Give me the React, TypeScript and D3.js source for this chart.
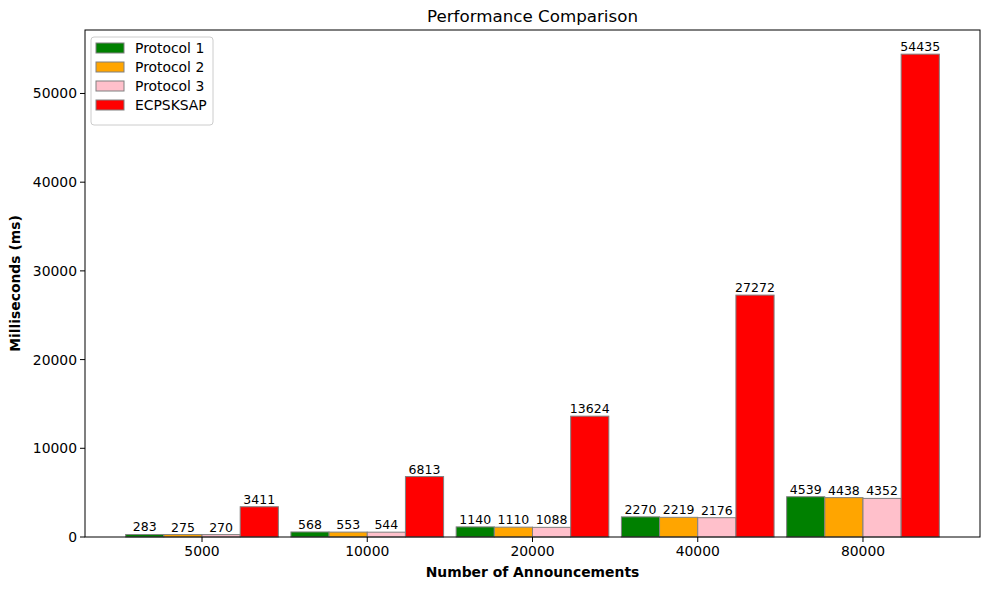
import React from "react";
import * as d3 from "d3";

const categories = ["5000", "10000", "20000", "40000", "80000"];
const seriesNames = ["Protocol 1", "Protocol 2", "Protocol 3", "ECPSKSAP"];
const protocol1 = [283, 568, 1140, 2270, 4539];
const protocol2 = [275, 553, 1110, 2219, 4438];
const protocol3 = [270, 544, 1088, 2176, 4352];
const ecpsksap = [3411, 6813, 13624, 27272, 54435];
const yTicks = [0, 10000, 20000, 30000, 40000, 50000];
const colors = ["green", "orange", "pink", "red"];

const W = 990, H = 590;
const M = { left: 85, right: 980, top: 30, bottom: 537 };
const barW = 0.231;

export default function App() {
  const series = [protocol1, protocol2, protocol3, ecpsksap];
  const xMin = -barW / 2, xMax = categories.length - 1 + 3.5 * barW;
  const pad = (xMax - xMin) * 0.05;
  const x = d3.scaleLinear().domain([xMin - pad, xMax + pad]).range([M.left, M.right]);
  const yMaxData = d3.max(series.flat()) as number;
  const y = d3.scaleLinear().domain([0, yMaxData * 1.05]).range([M.bottom, M.top]);
  const font = "DejaVu Sans, sans-serif";
  return (
    <svg width={W} height={H} style={{ position: "absolute", left: 0, top: 0 }} fontFamily={font}>
      <rect x={0} y={0} width={W} height={H} fill="white" />
      {series.map((vals, si) =>
        vals.map((v, ci) => {
          const cx = ci + si * barW;
          const x0 = x(cx - barW / 2), x1 = x(cx + barW / 2);
          return (
            <g key={`${si}-${ci}`}>
              <rect x={x0} y={y(v)} width={x1 - x0} height={y(0) - y(v)} fill={colors[si]} stroke="grey" strokeWidth={1} />
              <text x={(x0 + x1) / 2} y={y(v) - 3} textAnchor="middle" fontSize={12.5} fill="black">{v}</text>
            </g>
          );
        })
      )}
      <rect x={M.left} y={M.top} width={M.right - M.left} height={M.bottom - M.top} fill="none" stroke="black" strokeWidth={1} />
      {categories.map((c, i) => {
        const tx = x(i + 1.5 * barW);
        return (
          <g key={c}>
            <line x1={tx} x2={tx} y1={M.bottom} y2={M.bottom + 5} stroke="black" />
            <text x={tx} y={M.bottom + 19} textAnchor="middle" fontSize={13.9}>{c}</text>
          </g>
        );
      })}
      {yTicks.map((t) => (
        <g key={t}>
          <line x1={M.left - 5} x2={M.left} y1={y(t)} y2={y(t)} stroke="black" />
          <text x={M.left - 8} y={y(t) + 5} textAnchor="end" fontSize={13.9}>{t}</text>
        </g>
      ))}
      <text x={(M.left + M.right) / 2} y={22} textAnchor="middle" fontSize={16.7}>Performance Comparison</text>
      <text x={(M.left + M.right) / 2} y={577} textAnchor="middle" fontSize={13.9} fontWeight="bold">Number of Announcements</text>
      <text transform={`translate(20,${(M.top + M.bottom) / 2}) rotate(-90)`} textAnchor="middle" fontSize={13.9} fontWeight="bold">Milliseconds (ms)</text>
      <g>
        <rect x={91} y={37} width={122} height={88} rx={3} fill="white" fillOpacity={0.8} stroke="#cccccc" />
        {seriesNames.map((n, i) => (
          <g key={n}>
            <rect x={96} y={43 + i * 19} width={28} height={10} fill={colors[i]} stroke="grey" />
            <text x={135} y={53 + i * 19} fontSize={13.9}>{n}</text>
          </g>
        ))}
      </g>
    </svg>
  );
}
